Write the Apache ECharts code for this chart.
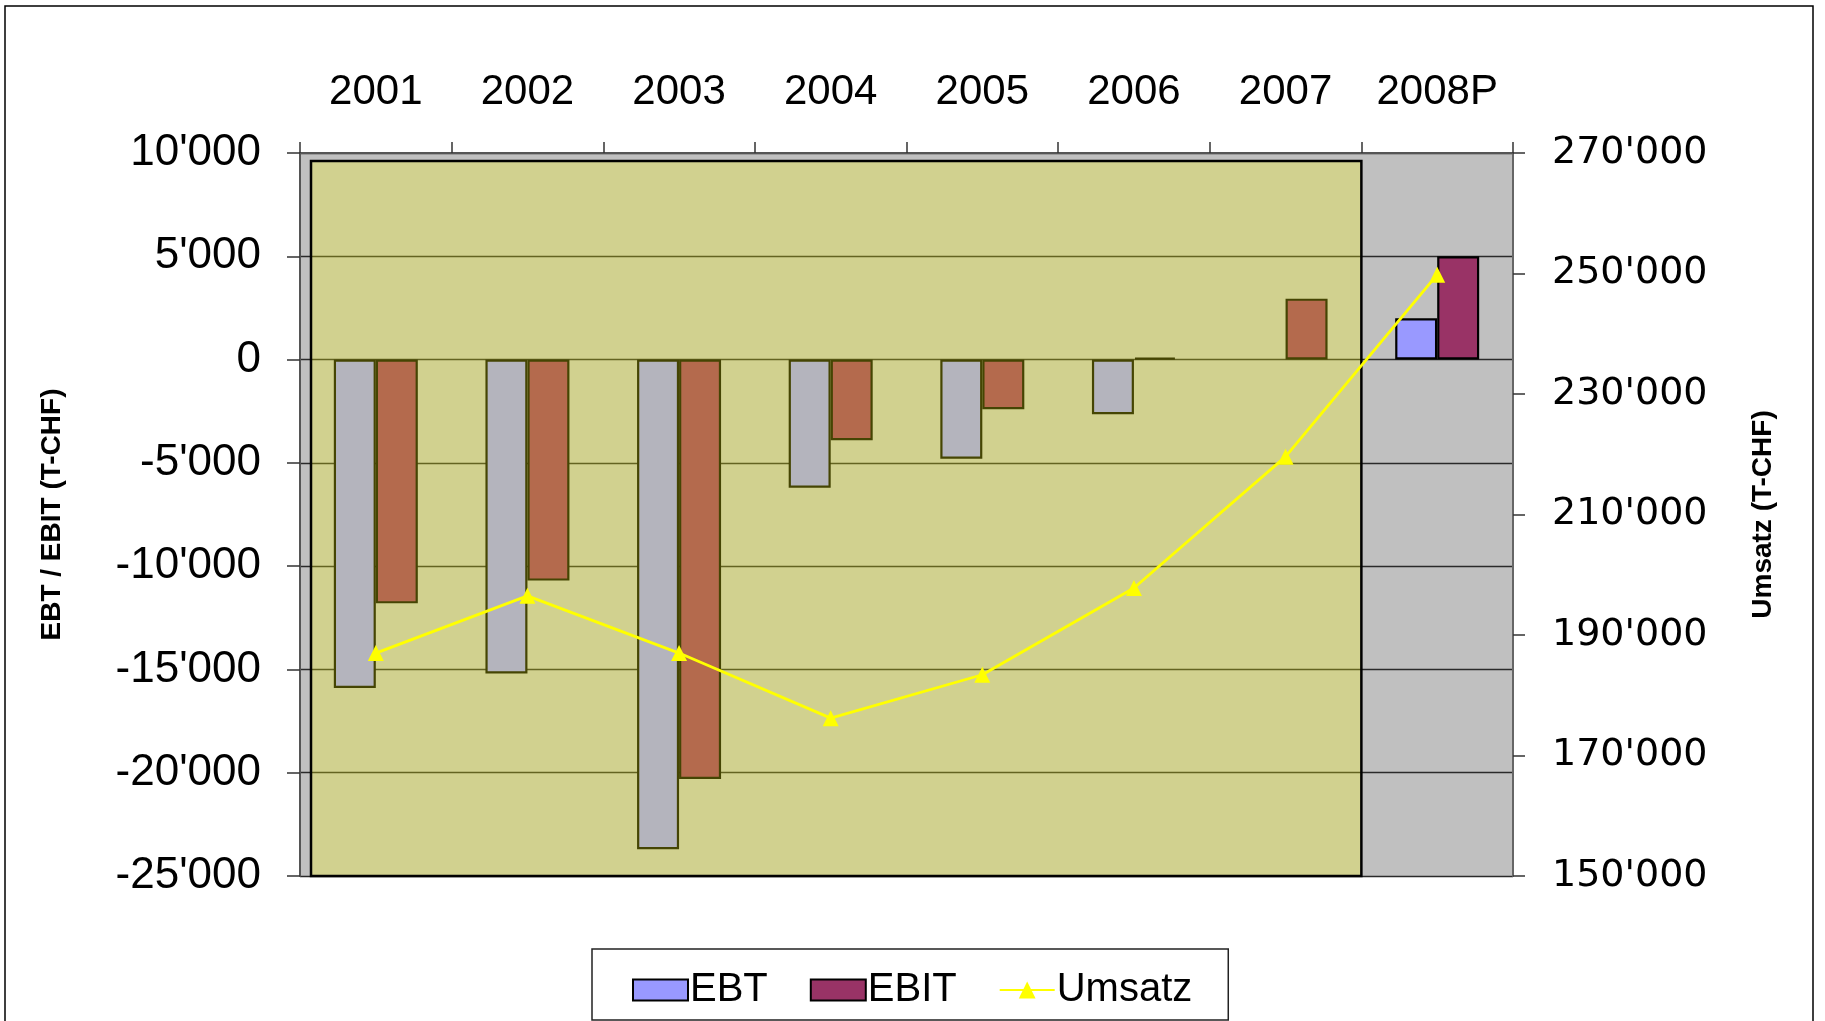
<!DOCTYPE html>
<html>
<head>
<meta charset="utf-8">
<title>EBT / EBIT / Umsatz</title>
<script src="https://cdn.jsdelivr.net/npm/echarts@6/dist/echarts.min.js"></script>
<style>
  html, body { margin: 0; padding: 0; background: #fff; }
  #main { width: 1825px; height: 1021px; }
</style>
</head>
<body>
<div id="main"></div>
<script>
// values (T-CHF)
var years = ['2001', '2002', '2003', '2004', '2005', '2006', '2007', '2008P'];
var ebt = [-15900, -15200, -23700, -6200, -4800, -2650, null, 2000];
var ebit = [-11800, -10700, -20300, -3900, -2400, 100, 2950, 5000];
var umsatz = [187000, 196500, 187000, 176200, 183400, 197800, 219600, 249800];

var leftMin = -25000, leftMax = 10000, leftStep = 5000;
var rightMin = 150000, rightMax = 270000, rightStep = 20000;

function fmt(v) {
  var s = String(Math.abs(v)).replace(/\B(?=(\d{3})+(?!\d))/g, "'");
  return (v < 0 ? '-' : '') + s;
}

var chart = echarts.init(document.getElementById('main'));

var option = {
  backgroundColor: '#ffffff',
  animation: false,
  grid: {
    left: 300,
    right: 312,
    top: 153,
    bottom: 145,
    show: true,
    backgroundColor: '#c0c0c0',
    borderWidth: 0
  },
  legend: {
    left: 592,
    top: 949,
    padding: [21, 36, 10, 40],
    itemGap: 42,
    itemWidth: 55,
    itemHeight: 21,
    backgroundColor: '#ffffff',
    borderColor: '#222',
    borderWidth: 1.5,
    textStyle: {
      fontFamily: '"Liberation Sans", Arial',
      fontSize: 40,
      color: '#000',
      padding: [0, 0, 0, -3]
    },
    data: [
      { name: 'EBT', icon: 'rect' },
      { name: 'EBIT', icon: 'rect' },
      { name: 'Umsatz' }
    ]
  },
  xAxis: {
    type: 'category',
    position: 'top',
    data: years,
    axisLine: { onZero: false, lineStyle: { color: '#555', width: 2 } },
    axisTick: { show: true, inside: false, length: 11, lineStyle: { color: '#333', width: 1.5 } },
    axisLabel: {
      interval: 0,
      margin: 40,
      fontFamily: '"Liberation Sans", Arial',
      fontSize: 42,
      color: '#000'
    },
    splitLine: { show: false }
  },
  yAxis: [{
    type: 'value',
    min: leftMin,
    max: leftMax,
    interval: leftStep,
    name: 'EBT / EBIT (T-CHF)',
    nameLocation: 'middle',
    nameRotate: 90,
    nameGap: 234,
    nameTextStyle: {
      fontFamily: '"Liberation Sans", Arial',
      fontWeight: 'bold',
      fontSize: 28,
      color: '#000'
    },
    axisLine: { show: true, lineStyle: { color: '#555', width: 2 } },
    axisTick: { show: true, length: 13, lineStyle: { color: '#333', width: 1.5 } },
    axisLabel: {
      margin: 39,
      fontFamily: '"Liberation Sans", Arial',
      fontSize: 44,
      color: '#000',
      formatter: fmt
    },
    splitLine: { show: true, lineStyle: { color: '#2a2a2a', width: 1.3 } }
  }, {
    type: 'value',
    position: 'right',
    min: rightMin,
    max: rightMax,
    interval: rightStep,
    name: 'Umsatz (T-CHF)',
    nameLocation: 'middle',
    nameRotate: 90,
    nameGap: 236,
    nameTextStyle: {
      fontFamily: '"Liberation Sans", Arial',
      fontWeight: 'bold',
      fontSize: 28,
      color: '#000'
    },
    axisLine: { show: true, lineStyle: { color: '#666', width: 2 } },
    axisTick: { show: true, length: 12, lineStyle: { color: '#333', width: 1.5 } },
    axisLabel: {
      margin: 39,
      fontFamily: '"DejaVu Sans", sans-serif',
      fontSize: 38,
      color: '#000',
      formatter: fmt
    },
    splitLine: { show: false }
  }],
  series: [{
    name: 'EBT',
    type: 'bar',
    data: ebt,
    barWidth: 42,
    barGap: '0%',
    itemStyle: { color: '#9999ff', borderColor: '#000', borderWidth: 2.2 }
  }, {
    name: 'EBIT',
    type: 'bar',
    data: ebit,
    barWidth: 42,
    barGap: '0%',
    itemStyle: { color: '#993366', borderColor: '#000', borderWidth: 2.2 }
  }, {
    name: 'Umsatz',
    type: 'line',
    yAxisIndex: 1,
    data: umsatz,
    z: 10,
    symbol: 'triangle',
    symbolSize: 16,
    lineStyle: { color: '#ffff00', width: 2.8 },
    itemStyle: { color: '#ffff00', borderWidth: 0 }
  }],
  graphic: [{
    id: 'frame',
    type: 'rect',
    z: 20,
    shape: { x: 5, y: 6, width: 1808, height: 1040 },
    style: { fill: 'none', stroke: '#000', lineWidth: 1.5 }
  }]
};

chart.setOption(option);

// translucent yellow panel laid over 2001-2007, placed from the axes
function drawPanel() {
  var c0 = chart.convertToPixel({ xAxisIndex: 0 }, years[0]);
  var c1 = chart.convertToPixel({ xAxisIndex: 0 }, years[1]);
  var band = c1 - c0;
  var left = c0 - band / 2 + 11;
  var right = chart.convertToPixel({ xAxisIndex: 0 }, years[6]) + band / 2;
  var top = chart.convertToPixel({ yAxisIndex: 0 }, leftMax) + 8;
  var bottom = chart.convertToPixel({ yAxisIndex: 0 }, leftMin);
  chart.setOption({
    graphic: [{
      id: 'panel',
      type: 'rect',
      z: 5,
      shape: { x: left, y: top, width: right - left, height: bottom - top },
      style: { fill: 'rgba(255,255,10,0.27)', stroke: '#000', lineWidth: 2.5 }
    }]
  });
}
drawPanel();

window.addEventListener('resize', function () {
  chart.resize();
  drawPanel();
});
</script>
</body>
</html>
